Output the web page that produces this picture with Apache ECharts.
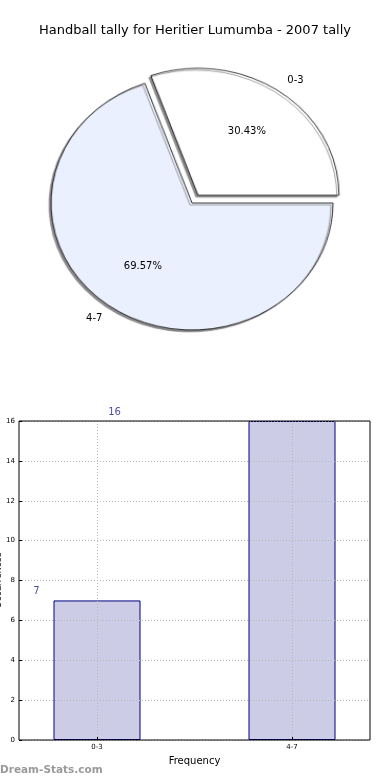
<!DOCTYPE html>
<html>
<head>
<meta charset="utf-8">
<script src="https://cdn.jsdelivr.net/npm/echarts@6/dist/echarts.min.js"></script>
<style>
html,body{margin:0;padding:0;background:#fff;}
#wrap{position:relative;width:390px;height:780px;background:#fff;}
#p{position:absolute;left:0;top:0;width:390px;height:780px;z-index:0;
   transform-origin:192px 203px;transform:scale(1.052,0.948);}
#c{position:absolute;left:0;top:0;width:390px;height:780px;z-index:1;}
</style>
</head>
<body>
<div id="wrap"><div id="p"></div><div id="c"></div></div>
<script>
const titleText = 'Handball tally for Heritier Lumumba - 2007 tally';
const categories = ['0-3', '4-7'];
const values = [7, 16];
const pieColors = ['#ffffff', '#ebf0fe'];
const yTicks = [0, 2, 4, 6, 8, 10, 12, 14, 16];
const xAxisName = 'Frequency';
const yAxisName = 'Occurrences';
const watermark = 'Dream-Stats.com';

const FONT = 'DejaVu Sans';
const pieChart = echarts.init(document.getElementById('p'), null, {renderer: 'canvas'});
const chart = echarts.init(document.getElementById('c'), null, {renderer: 'canvas'});

const R = 134;
const center = [192, 203];
const nameOffsets = [[11, 8], [-11, -7]];
const pctOffsets = [[1, 5], [-1, -5]];

const pieData = categories.map((c, i) => ({
  name: c, value: values[i], selected: i === 0,
  itemStyle: {color: pieColors[i]}
}));

function labelItems(offsets) {
  return categories.map((c, i) => ({
    name: c, value: values[i], selected: i === 0,
    label: {offset: offsets[i]},
    select: {label: {offset: offsets[i]}}
  }));
}

pieChart.setOption({
  animation: false,
  backgroundColor: '#fff',
  series: [{
    type: 'pie', center: center, radius: R, clockwise: false, startAngle: 0,
    selectedMode: 'single', selectedOffset: 10, silent: true,
    label: {show: false}, labelLine: {show: false},
    itemStyle: {borderColor: '#000', borderWidth: 0.8, shadowColor: '#8a8a8a', shadowBlur: 0, shadowOffsetX: -2, shadowOffsetY: 2},
    emphasis: {disabled: true}, select: {itemStyle: {borderColor: '#000'}},
    data: pieData
  }]
});

const option = {
  animation: false,
  backgroundColor: 'transparent',
  title: [
    {text: titleText, left: 'center', top: 19,
     textStyle: {fontFamily: FONT, fontSize: 13, fontWeight: 'normal', color: '#000'}},
    {text: watermark, left: 0, top: 765, padding: 0,
     textStyle: {fontFamily: FONT, fontSize: 10.5, fontWeight: 'bold', color: '#9a9a9a'}}
  ],
  grid: {left: 19, right: 20, top: 421, bottom: 40, outerBoundsMode: 'none', containLabel: false,
         show: true, borderColor: '#000', borderWidth: 1, z: 6},
  xAxis: {
    type: 'value', min: -0.4, max: 1.4, z: 5,
    name: xAxisName, nameLocation: 'middle', nameGap: 16,
    nameTextStyle: {fontFamily: FONT, fontSize: 10, color: '#000'},
    axisLine: {show: false, onZero: false},
    axisTick: {show: true, inside: true, length: 3, customValues: [0, 1], lineStyle: {color: '#000'}},
    axisLabel: {customValues: [0, 1], formatter: v => categories[Math.round(v)], fontFamily: FONT, fontSize: 7, color: '#000', margin: 4},
    splitLine: {show: true, lineStyle: {color: '#b8b8b8', type: [1, 2], width: 1}}
  },
  yAxis: {
    type: 'value', min: yTicks[0], max: yTicks[yTicks.length - 1], interval: 2, z: 5,
    name: yAxisName, nameLocation: 'middle', nameGap: 16, nameMoveOverlap: false,
    nameTextStyle: {fontFamily: FONT, fontSize: 9, color: '#000'},
    axisLine: {show: false, onZero: false},
    axisTick: {show: true, inside: true, length: 3, lineStyle: {color: '#000'}},
    axisLabel: {fontFamily: FONT, fontSize: 7, color: '#000', margin: 4},
    splitLine: {show: true, lineStyle: {color: '#b8b8b8', type: [1, 2], width: 1}}
  },
  series: [
    {
      type: 'pie', center: center, radius: R * 1.2, clockwise: false, startAngle: 0,
      selectedMode: 'single', selectedOffset: 10, silent: true,
      itemStyle: {color: 'rgba(0,0,0,0)', borderWidth: 0},
      label: {show: true, position: 'inside', formatter: '{d}%', fontFamily: FONT, fontSize: 10, color: '#000'},
      labelLine: {show: false}, emphasis: {disabled: true},
      data: labelItems(pctOffsets), z: 3
    },
    {
      type: 'pie', center: center, radius: R * 2.2, clockwise: false, startAngle: 0,
      selectedMode: 'single', selectedOffset: 10, silent: true,
      itemStyle: {color: 'rgba(0,0,0,0)', borderWidth: 0},
      label: {show: true, position: 'inside', formatter: '{b}', fontFamily: FONT, fontSize: 10, color: '#000'},
      labelLine: {show: false}, emphasis: {disabled: true},
      data: labelItems(nameOffsets), z: 3
    },
    {
      type: 'bar', barWidth: 87, z: 2,
      itemStyle: {color: '#ccccE6', borderColor: '#000080', borderWidth: 1},
      emphasis: {disabled: true},
      data: categories.map((c, i) => [i, values[i]])
    },
    {
      type: 'scatter', symbolSize: 0, z: 7, silent: true,
      label: {show: true, position: 'top', distance: 4, formatter: p => String(p.value[1]), fontFamily: FONT, fontSize: 10, color: '#1a1a8c'},
      data: values.map((v, i) => [i * 0.4 - 0.31, v])
    }
  ]
};
chart.setOption(option);
</script>
</body>
</html>
